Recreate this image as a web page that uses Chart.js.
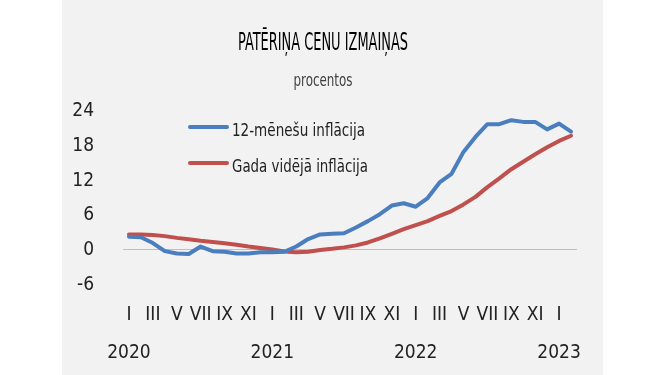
<!DOCTYPE html>
<html>

<head>
    <title>Patēriņa cenu izmaiņas</title>
    <script src="https://cdn.jsdelivr.net/npm/chart.js"></script>
    <style>
        body {
            margin: 0;
            background: #fff;
        }

        #panel {
            position: absolute;
            left: 62px;
            top: 0;
            width: 541px;
            height: 375px;
            background: #f2f2f2;
        }
    </style>
</head>

<body>
    <div id="panel">
        <canvas id="cpi-chart" width="541" height="375"></canvas>
    </div>

    <script>
        // Dati: 2020. janvāris - 2023. februāris, %
        const monthTicks = ['I', '', 'III', '', 'V', '', 'VII', '', 'IX', '', 'XI', ''];
        const yearTicks = ['2020', '2021', '2022', '2023'];

        const inflation12m = [
            2.3, 2.2, 1.2, -0.2, -0.6, -0.7, 0.6, -0.2, -0.3, -0.6, -0.6, -0.4,
            -0.4, -0.3, 0.6, 1.9, 2.7, 2.8, 2.9, 3.9, 5.0, 6.2, 7.7, 8.1,
            7.5, 9.0, 11.7, 13.2, 17.0, 19.6, 21.8, 21.8, 22.5, 22.2, 22.2, 20.9,
            21.9, 20.5
        ];
        const inflationAvg = [
            2.7, 2.7, 2.6, 2.4, 2.1, 1.85, 1.6, 1.4, 1.15, 0.9, 0.6, 0.35,
            0.1, -0.25, -0.4, -0.3, 0.0, 0.2, 0.45, 0.8, 1.3, 2.0, 2.8, 3.6,
            4.3, 5.0, 5.9, 6.75, 7.9, 9.2, 10.9, 12.4, 14.0, 15.3, 16.6, 17.8,
            18.9, 19.8
        ];

        const TITLE = 'PATĒRIŅA CENU IZMAIŅAS';
        const SUBTITLE = 'procentos';

        // šaurs fonts - paņem pirmo, kas ir uzinstalēts
        const fontCandidates = ["'Noto Sans ExtraCondensed'", "'Noto Sans Condensed'", "'Liberation Sans Narrow'", "'DejaVu Sans Condensed'"];
        function pickFont() {
            const c = document.createElement('canvas').getContext('2d');
            const sample = 'PATĒRIŅA 2020 inflācija';
            c.font = '40px monospace';
            const base = c.measureText(sample).width;
            for (const f of fontCandidates) {
                c.font = '40px ' + f + ', monospace';
                if (Math.abs(c.measureText(sample).width - base) > 0.5) return f;
            }
            return 'sans-serif';
        }
        const FONT = pickFont();

        // kategorijas: mēnesis + gads zem janvāra
        const labels = inflation12m.map((v, i) => {
            const m = monthTicks[i % 12];
            return i % 12 === 0 ? [m, yearTicks[i / 12]] : m;
        });

        // virsraksts un leģenda (šaurs teksts ar maxWidth)
        const textOverlay = {
            id: 'textOverlay',
            afterDraw(chart) {
                const ctx = chart.ctx;
                ctx.save();
                ctx.textBaseline = 'alphabetic';

                ctx.textAlign = 'center';
                ctx.fillStyle = '#000';
                ctx.font = '25px ' + FONT;
                ctx.fillText(TITLE, 261, 50, 170);
                ctx.fillStyle = '#404040';
                ctx.font = '17px ' + FONT;
                ctx.fillText(SUBTITLE, 261, 86, 59);

                ctx.textAlign = 'left';
                chart.data.datasets.forEach((ds, i) => {
                    const y = 127 + i * 36;
                    ctx.strokeStyle = ds.borderColor;
                    ctx.lineWidth = 4;
                    ctx.lineCap = 'round';
                    ctx.beginPath();
                    ctx.moveTo(128, y);
                    ctx.lineTo(165, y);
                    ctx.stroke();
                    ctx.fillStyle = '#222';
                    ctx.font = '17px ' + FONT;
                    ctx.fillText(ds.label, 170, y + 8.5, i === 0 ? 133 : 136);
                });
                ctx.restore();
            }
        };

        const ctx = document.getElementById('cpi-chart').getContext('2d');
        new Chart(ctx, {
            type: 'line',
            data: {
                labels: labels,
                datasets: [{
                    label: '12-mēnešu inflācija',
                    data: inflation12m,
                    borderColor: '#4a7ebf',
                    borderWidth: 4,
                    pointRadius: 0,
                    tension: 0,
                    borderJoinStyle: 'round',
                    borderCapStyle: 'round'
                }, {
                    label: 'Gada vidējā inflācija',
                    data: inflationAvg,
                    borderColor: '#c0504d',
                    borderWidth: 4,
                    pointRadius: 0,
                    tension: 0,
                    borderJoinStyle: 'round',
                    borderCapStyle: 'round'
                }]
            },
            options: {
                responsive: false,
                animation: false,
                layout: {
                    padding: { left: 6, right: 26, top: 111.5, bottom: 0 }
                },
                plugins: {
                    legend: { display: false },
                    tooltip: { enabled: false }
                },
                scales: {
                    x: {
                        offset: true,
                        grid: { display: false, drawTicks: false },
                        border: { display: false },
                        ticks: {
                            autoSkip: false,
                            maxRotation: 0,
                            color: '#222',
                            padding: 11.5,
                            font: { family: FONT, size: 19, lineHeight: 2.0 }
                        },
                        afterFit(scale) {
                            scale.height = 90.4;
                        }
                    },
                    y: {
                        min: -6,
                        max: 24,
                        border: { display: false },
                        grid: {
                            drawTicks: false,
                            color: (c) => c.tick && c.tick.value === 0 ? '#bfbfbf' : 'rgba(0,0,0,0)',
                            lineWidth: 1
                        },
                        ticks: {
                            stepSize: 6,
                            color: '#222',
                            padding: 29,
                            font: { family: FONT, size: 19 }
                        },
                        afterFit(scale) {
                            scale.width = 55;
                        }
                    }
                }
            },
            plugins: [textOverlay]
        });
    </script>
</body>

</html>
